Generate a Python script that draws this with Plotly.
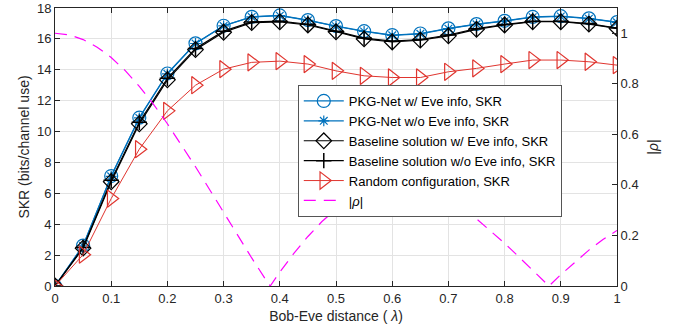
import plotly.graph_objects as go

x_pts = [0, 0.05, 0.1, 0.15, 0.2, 0.25, 0.3, 0.35, 0.4, 0.45, 0.5,
         0.55, 0.6, 0.65, 0.7, 0.75, 0.8, 0.85, 0.9, 0.95, 1.0]

pkg_w_eve = [0, 2.62, 7.12, 10.9, 13.76, 15.71, 16.85, 17.43, 17.52, 17.22, 16.83,
             16.5, 16.25, 16.35, 16.68, 16.96, 17.17, 17.42, 17.47, 17.33, 17.09]
pkg_wo_eve = [0, 2.6, 7.1, 10.88, 13.74, 15.7, 16.84, 17.42, 17.5, 17.2, 16.82,
              16.48, 16.23, 16.33, 16.66, 16.94, 17.15, 17.4, 17.45, 17.31, 17.07]
base_w_eve = [0, 2.45, 6.75, 10.5, 13.35, 15.3, 16.43, 17.05, 17.1, 16.9, 16.46,
              16.0, 15.8, 15.92, 16.2, 16.62, 16.9, 17.11, 17.11, 16.96, 16.68]
base_wo_eve = [0, 2.5, 6.85, 10.6, 13.45, 15.38, 16.5, 17.1, 17.15, 16.95, 16.5,
               16.05, 15.85, 15.96, 16.25, 16.66, 16.93, 17.14, 17.14, 16.99, 16.7]
random_cfg = [0, 2.03, 5.66, 8.86, 11.34, 13.0, 14.04, 14.48, 14.56, 14.37, 13.93,
              13.61, 13.5, 13.5, 13.87, 14.09, 14.37, 14.63, 14.63, 14.52, 14.3]

rho_x = [0, 0.025, 0.05, 0.075, 0.1, 0.125, 0.15, 0.175, 0.2, 0.225, 0.25,
         0.275, 0.3, 0.325, 0.35, 0.375, 0.383, 0.4, 0.425, 0.45, 0.475, 0.5,
         0.525, 0.55, 0.575, 0.6, 0.625, 0.65, 0.675, 0.7, 0.725, 0.75,
         0.775, 0.8, 0.825, 0.85, 0.875, 0.879, 0.9, 0.925, 0.95, 0.975, 1.0]
rho_y = [1.0, 0.994, 0.975, 0.945, 0.904, 0.852, 0.79, 0.72, 0.642, 0.559, 0.472,
         0.382, 0.29, 0.2, 0.111, 0.025, 0.0, 0.055, 0.129, 0.196, 0.255, 0.304,
         0.344, 0.374, 0.393, 0.402, 0.401, 0.39, 0.37, 0.343, 0.307, 0.266,
         0.219, 0.169, 0.116, 0.062, 0.008, 0.0, 0.045, 0.095, 0.142, 0.184, 0.22]

BLUE = "#0072BD"
RED = "#E0352F"
MAG = "#FF00FF"
FONT = "Liberation Sans, Arial, sans-serif"

fig = go.Figure()
fig.add_trace(go.Scatter(x=x_pts, y=pkg_w_eve, mode="lines+markers",
                         name="PKG-Net w/ Eve info, SKR",
                         line=dict(color=BLUE, width=1.2),
                         marker=dict(symbol="circle-open", size=13, color=BLUE, line=dict(width=1.2))))
fig.add_trace(go.Scatter(x=x_pts, y=pkg_wo_eve, mode="lines+markers",
                         name="PKG-Net w/o Eve info, SKR",
                         line=dict(color=BLUE, width=1.2),
                         marker=dict(symbol="asterisk-open", size=9, color=BLUE, line=dict(width=1.2, color=BLUE))))
fig.add_trace(go.Scatter(x=x_pts, y=base_w_eve, mode="lines+markers",
                         name="Baseline solution w/ Eve info, SKR",
                         line=dict(color="black", width=1.2),
                         marker=dict(symbol="diamond-open", size=12, color="black", line=dict(width=1.2))))
fig.add_trace(go.Scatter(x=x_pts, y=base_wo_eve, mode="lines+markers",
                         name="Baseline solution w/o Eve info, SKR",
                         line=dict(color="black", width=1.2),
                         marker=dict(symbol="cross-thin-open", size=11, color="black", line=dict(width=1.5, color="black"))))
fig.add_trace(go.Scatter(x=x_pts, y=random_cfg, mode="lines+markers",
                         name="Random configuration, SKR",
                         line=dict(color=RED, width=1),
                         marker=dict(symbol="triangle-right-open", size=15, color=RED, line=dict(width=1.2))))
fig.add_trace(go.Scatter(x=rho_x, y=rho_y, mode="lines", yaxis="y2",
                         name="|<i>ρ</i>|",
                         line=dict(color=MAG, width=1.2, dash="12px,8px")))

axis_common = dict(showline=True, linecolor="#262626", linewidth=1, ticks="inside",
                   ticklen=5, tickcolor="#262626", zeroline=False,
                   tickfont=dict(family=FONT, size=13, color="#262626"))

fig.update_layout(
    width=685, height=330,
    margin=dict(l=55, r=68, t=8, b=44, autoexpand=False),
    paper_bgcolor="white", plot_bgcolor="white",
    font=dict(family=FONT, size=13, color="#262626"),
    xaxis=dict(range=[0, 1], dtick=0.1, mirror="ticks", showgrid=True,
               gridcolor="#E3E3E3", gridwidth=1,
               title=dict(text="Bob-Eve distance ( <i>λ</i>)", font=dict(family=FONT, size=14), standoff=6),
               **axis_common),
    yaxis=dict(range=[0, 18], dtick=2, showgrid=True, gridcolor="#E3E3E3", gridwidth=1,
               title=dict(text="SKR (bits/channel use)", font=dict(family=FONT, size=14), standoff=4),
               **axis_common),
    yaxis2=dict(range=[0, 1.1], tickvals=[0, 0.2, 0.4, 0.6, 0.8, 1],
                ticktext=["0", "0.2", "0.4", "0.6", "0.8", "1"],
                overlaying="y", side="right", showgrid=False,
                title=dict(text="|<i>ρ</i>|", font=dict(family=FONT, size=14), standoff=10),
                **axis_common),
    legend=dict(x=0.432, y=0.723, xanchor="left", yanchor="top",
                bgcolor="white", bordercolor="#555555", borderwidth=1,
                font=dict(family=FONT, size=13, color="black"),
                tracegroupgap=0, itemwidth=40),
    showlegend=True,
)

fig.write_html("out.html", config={"displayModeBar": False},
               post_script="document.body.style.margin='0';document.body.style.padding='0';")
